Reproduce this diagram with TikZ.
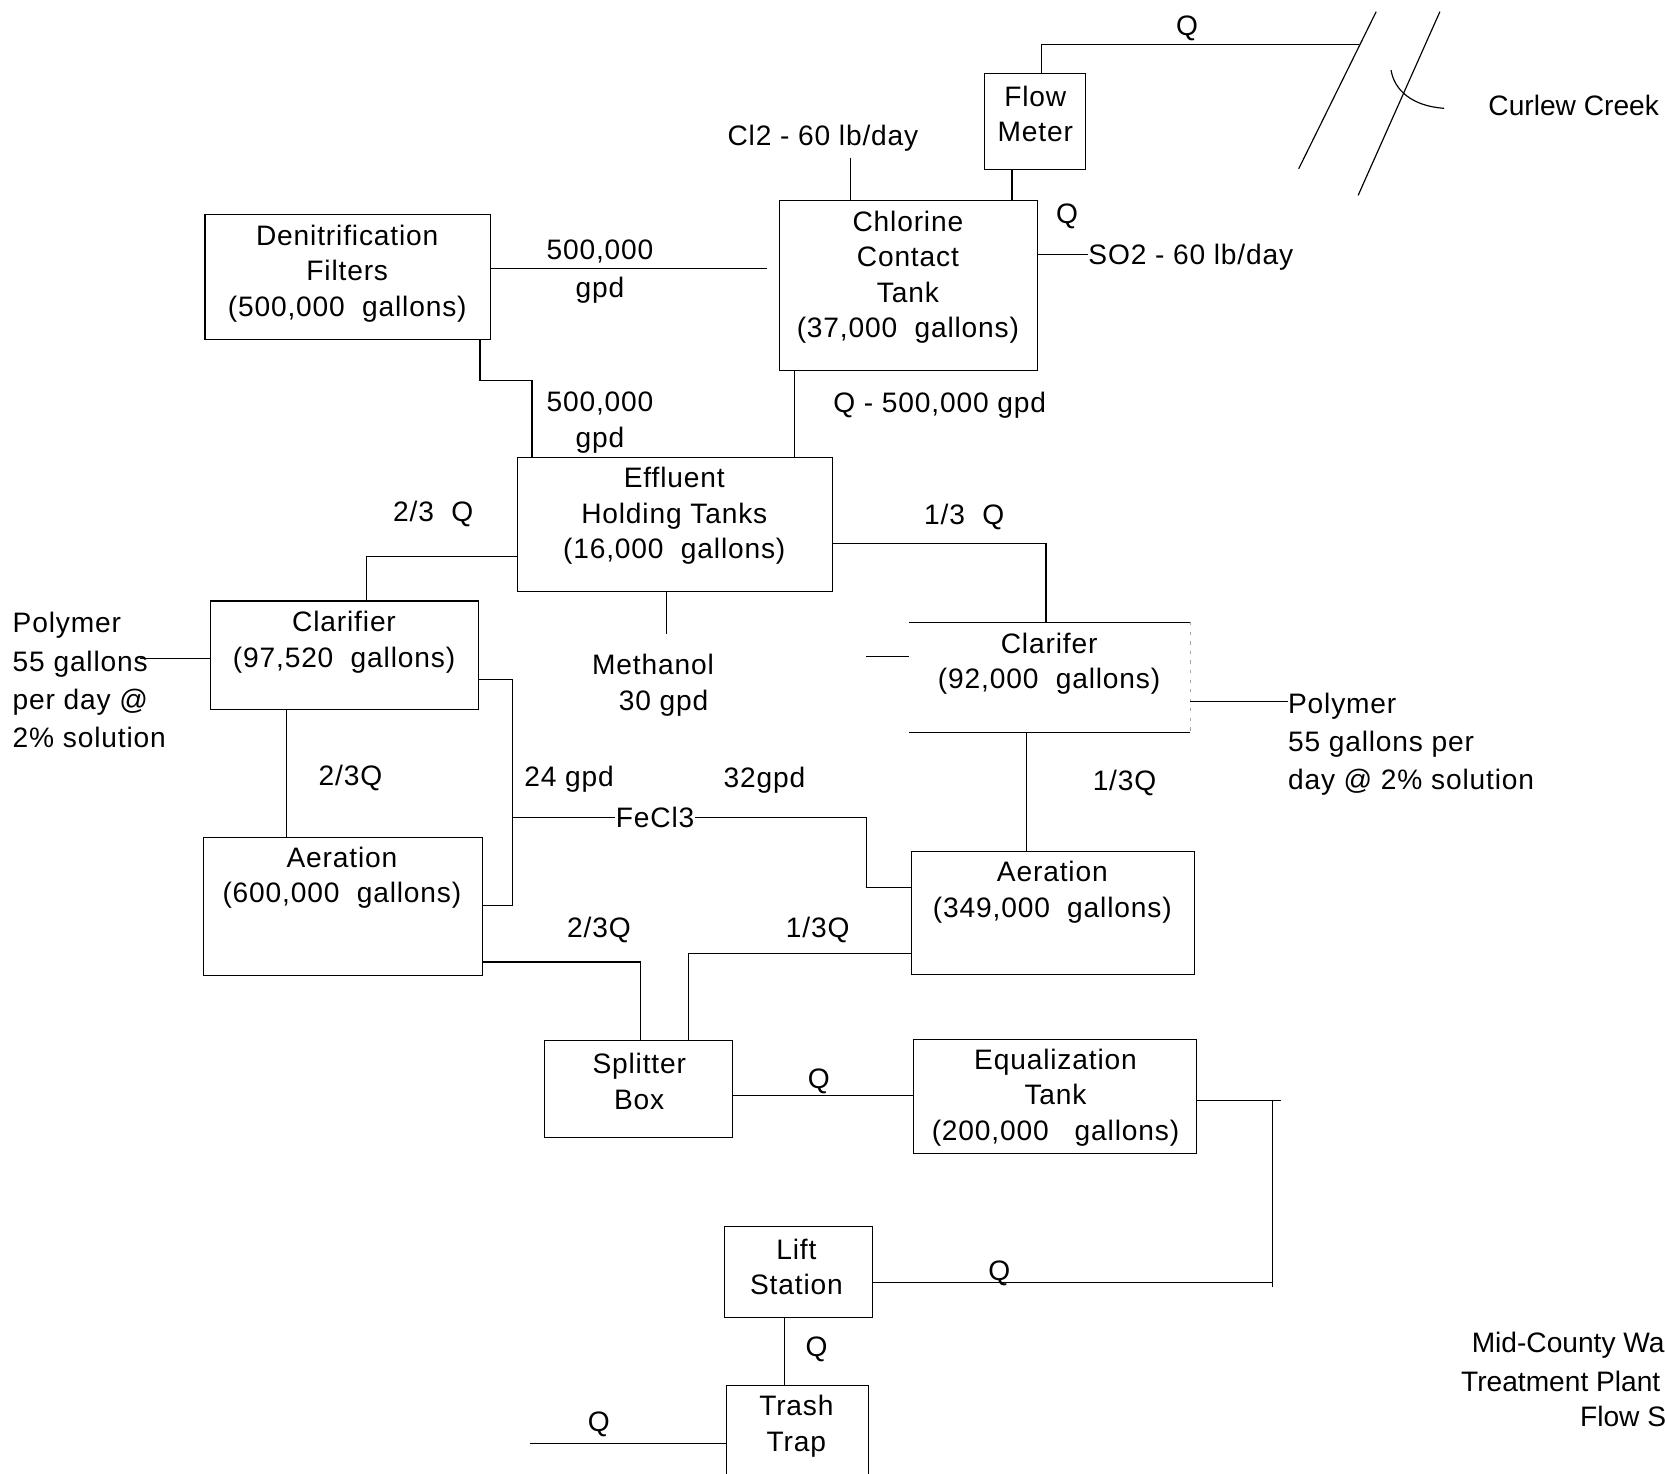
\documentclass[tikz,border=0pt]{standalone}
\usepackage{fontspec}
\setmainfont{Liberation Sans}[LetterSpace=3]
\newfontfamily\plainsans{Liberation Sans}
\begin{document}
\begin{tikzpicture}[x=1pt,y=-1pt,line width=1.1pt,
  every node/.style={font=\fontsize{26.5}{33.5}\selectfont,inner sep=0pt,outer sep=0pt},
  tank/.style={draw,anchor=north west},
  txt/.style={align=center},
  lft/.style={align=left,anchor=west,font=\fontsize{26.5}{36}\selectfont}]
\useasboundingbox (0,0) rectangle (1568,1388);
\clip (0,0) rectangle (1568,1388);

% ---------- tanks ----------
\node[tank,minimum width=95pt,minimum height=91pt]  (fm)  at (927,69)  {};
\node[tank,minimum width=243pt,minimum height=160pt] (cct) at (734,189) {};
\node[tank,minimum width=269pt,minimum height=118pt] (dn)  at (193,202) {};
\node[tank,minimum width=297pt,minimum height=126pt] (eht) at (487,431) {};
\node[tank,minimum width=253pt,minimum height=102pt] (lcl) at (198,566) {};
\node[anchor=north west,minimum width=265pt,minimum height=104pt] (rcl) at (856,586) {};
\node[tank,minimum width=262pt,minimum height=130pt] (la)  at (192,789) {};
\node[tank,minimum width=267pt,minimum height=116pt] (ra)  at (858,802) {};
\node[tank,minimum width=177pt,minimum height=91pt]  (sb)  at (513,980) {};
\node[tank,minimum width=267pt,minimum height=107pt] (eq)  at (860,979) {};
\node[tank,minimum width=140pt,minimum height=86pt]  (ls)  at (682,1155) {};
\node[tank,minimum width=134pt,minimum height=110pt] (tt)  at (684,1305) {};
\draw (rcl.north west) -- (rcl.north east);
\draw (rcl.south west) -- (rcl.south east);
\draw[black!35,line width=0.8pt,dash pattern=on 3pt off 6pt] (rcl.north east) -- (rcl.south east);

% ---------- tank texts ----------
\begin{scope}[yshift=-3pt]
\node[txt] (tfm)  at (975,104.5) {Flow\\Meter};
\node[txt] (tcct) at (855,258) {Chlorine\\Contact\\Tank\\(37,000~~gallons)};
\node[txt] (tdn)  at (327,254.5) {Denitrification\\Filters\\(500,000~~gallons)};
\node[txt] (teht) at (635,483) {Effluent\\Holding Tanks\\(16,000~~gallons)};
\node[txt] (tlcl) at (324,602) {Clarifier\\(97,520~~gallons)};
\node[txt] (trcl) at (988,622) {Clarifer\\(92,000~~gallons)};
\node[txt] (tla)  at (322,823.5) {Aeration\\(600,000~~gallons)};
\node[txt] (tra)  at (991,837.5) {Aeration\\(349,000~~gallons)};
\node[txt] (tsb)  at (602,1015.5) {Splitter\\Box};
\node[txt] (teq)  at (994,1030.5) {Equalization\\Tank\\(200,000~~~gallons)};
\node[txt] (tls)  at (750,1190) {Lift\\Station};
\node[txt] (ttt)  at (750,1340) {Trash\\Trap};
\node (g1a) at (565,234) {500,000};
\node (g1b) at (565,270) {gpd};
\node (g2a) at (565,377) {500,000};
\node (g2b) at (565,412) {gpd};
\end{scope}

% ---------- labels ----------
\begin{scope}[yshift=-2pt]
\node (qtop)   at (1118,25) {Q};
\node[font=\plainsans\fontsize{26.5}{33.5}\selectfont] (creek) at (1482,97) {Curlew Creek};
\node (cl2)    at (775,128) {Cl2 - 60 lb/day};
\node (qfm)    at (1005,202) {Q};
\node[anchor=west] (so2) at (1025,240) {SO2 - 60 lb/day};
\node (q500) at (885,380) {Q - 500,000 gpd};
\node (q23a) at (408,482) {2/3~~Q};
\node (q13a) at (908,485) {1/3~~Q};
\node (q23b) at (330,731) {2/3Q};
\node (q13b) at (1059,735) {1/3Q};
\node (g24) at (536,732) {24 gpd};
\node (g32) at (720,733) {32gpd};
\node (q23c) at (564,874) {2/3Q};
\node (q13c) at (770,874) {1/3Q};
\node (qsb) at (771,1016) {Q};
\node (qls) at (941,1197) {Q};
\node (qtt) at (769,1269) {Q};
\node (qin) at (564,1339) {Q};
\node[anchor=west,font=\plainsans\fontsize{26.5}{33.5}\selectfont] (title1) at (1386,1265) {Mid-County Wa};
\node[anchor=west,font=\plainsans\fontsize{26.5}{33.5}\selectfont] (title2) at (1376,1299) {Treatment Plant};
\node[anchor=west,font=\plainsans\fontsize{26.5}{33.5}\selectfont] (title3) at (1488,1332) {Flow S};
\end{scope}
\node (meth) at (615,626) {Methanol};
\node (meth2) at (625,662) {30 gpd};
\node[lft] (polyl) at (12,640.5) {Polymer\\55 gallons\\per day @\\2\% solution};
\node[lft] (polyr) at (1213,701) {Polymer\\55 gallons per\\day @ 2\% solution};

% ---------- creek ----------
\coordinate (cin) at (1280,42);
\draw (1296,11) -- (1223,159);
\draw (1356,11) -- (1279,184);
\draw (1310,66) .. controls (1313,85) and (1330,100) .. (1360,102);

% ---------- connectors ----------
\draw (fm.north -| 981,0) -- (981,42) -- (cin);
\draw (fm.south -| 953,0) -- (cct.north -| 953,0);
\draw (cl2.south -| 801,0) ++(0,6) -- (cct.north -| 801,0);
\draw (cct.east |- 0,240) -- (so2.west |- 0,240);
\draw (dn.east |- 0,253) -- ([xshift=-12pt]cct.west |- 0,253);
\draw (dn.south -| 452,0) -- (452,358) -- (501,358) -- (eht.north -| 501,0);
\draw (eht.north -| 748,0) -- (cct.south -| 748,0);
\draw (eht.west |- 0,524) -- (345,524) -- (lcl.north -| 345,0);
\draw (eht.east |- 0,512) -- (985,512) -- (rcl.north -| 985,0);
\coordinate (methtop) at (628,597);
\draw (eht.south -| 628,0) -- (methtop);
\coordinate (stub) at (816,618);
\draw (stub) -- (rcl.west |- stub);
\coordinate (polylend) at (132,620);
\draw (polylend) -- (lcl.west |- polylend);
\draw (rcl.east |- 0,661) -- (polyr.west |- 0,661);
\draw (lcl.south -| 270,0) -- (la.north -| 270,0);
\draw (rcl.south -| 967,0) -- (ra.north -| 967,0);
\draw (lcl.east |- 0,640) -- (483,640) -- (483,853) -- (la.east |- 0,853);
\draw (483,770) -- (816,770) -- (816,836) -- (ra.west |- 0,836);
\node[fill=white,inner xsep=1pt,inner ysep=2pt] (fecl) at (617,770) {FeCl3};
\draw (la.east |- 0,906) -- (603,906) -- (sb.north -| 603,0);
\draw (ra.west |- 0,898) -- (648,898) -- (sb.north -| 648,0);
\draw (sb.east |- 0,1032) -- (eq.west |- 0,1032);
\coordinate (eqend) at (1206,1036);
\coordinate (riser) at (1198,1212);
\draw (eq.east |- eqend) -- (eqend);
\draw (1198,1036) -- (riser);
\draw (ls.east |- 0,1208) -- (1198,1208);
\draw (ls.south -| 739,0) -- (tt.north -| 739,0);
\coordinate (ttin) at (499,1359);
\draw (ttin) -- (tt.west |- ttin);
\end{tikzpicture}
\end{document}
